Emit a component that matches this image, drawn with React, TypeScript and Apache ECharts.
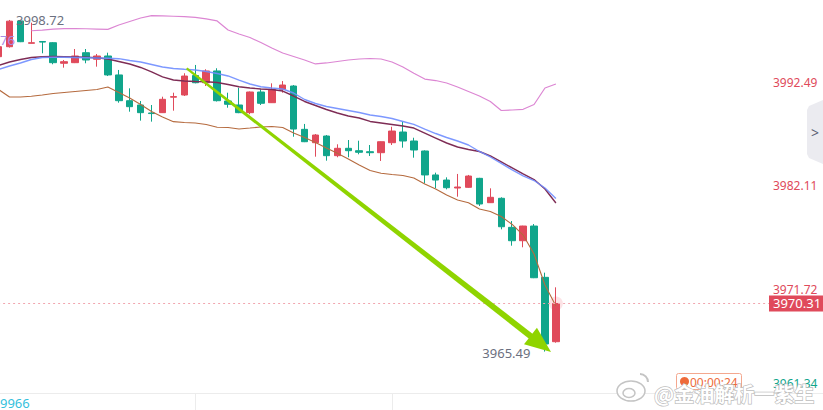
import React, { useEffect, useRef } from "react";
import * as echarts from "echarts";

// ---------- data ----------
const SLOT_COUNT = 71; // visible time slots (incl. empty future slots)
const slots: string[] = Array.from({ length: SLOT_COUNT }, (_, i) => String(i));

const opens = [3995.04, 3996.04, 3998.62, 3996.38, 3996.56, 3996.44, 3994.38, 3994.44, 3995.44, 3994.78, 3995.11, 3993.21, 3990.63, 3990.20, 3989.40, 3989.43, 3990.98, 3991.20, 3993.15, 3992.43, 3993.61, 3990.60, 3990.20, 3989.43, 3991.50, 3990.43, 3991.77, 3992.10, 3987.76, 3986.42, 3987.09, 3985.12, 3985.86, 3985.62, 3985.52, 3985.42, 3986.42, 3987.49, 3986.59, 3985.59, 3983.19, 3982.68, 3981.88, 3981.95, 3982.85, 3980.41, 3980.85, 3977.94, 3976.60, 3978.07, 3972.93, 3966.48];
const closes = [3996.04, 3998.60, 3996.54, 3996.44, 3996.50, 3994.44, 3994.54, 3995.11, 3994.71, 3995.11, 3993.21, 3990.63, 3990.03, 3989.43, 3989.34, 3990.77, 3991.04, 3993.10, 3992.43, 3993.61, 3990.63, 3990.27, 3989.43, 3991.50, 3990.37, 3991.77, 3992.20, 3987.79, 3986.52, 3987.19, 3985.12, 3985.86, 3985.62, 3985.46, 3985.42, 3986.52, 3987.59, 3986.59, 3985.69, 3983.19, 3982.68, 3981.91, 3981.98, 3983.08, 3980.28, 3980.95, 3978.00, 3976.60, 3978.07, 3972.89, 3966.25, 3970.31];
const lows = [3994.91, 3995.95, 3996.50, 3996.36, 3995.38, 3994.28, 3993.94, 3994.40, 3994.38, 3994.04, 3993.10, 3990.43, 3989.53, 3988.63, 3988.53, 3989.40, 3989.63, 3991.10, 3992.37, 3992.10, 3990.55, 3989.93, 3989.38, 3989.27, 3990.20, 3990.40, 3991.43, 3987.02, 3986.48, 3985.02, 3984.62, 3984.96, 3984.96, 3985.26, 3985.09, 3984.59, 3986.19, 3985.92, 3984.92, 3982.35, 3981.85, 3981.75, 3981.01, 3981.90, 3980.08, 3980.38, 3977.74, 3976.10, 3975.94, 3972.85, 3965.49, 3966.38];
const highs = [3996.21, 3998.72, 3998.70, 3998.45, 3996.58, 3996.50, 3994.71, 3995.81, 3995.81, 3995.31, 3995.44, 3993.71, 3991.87, 3990.60, 3990.20, 3991.03, 3991.43, 3993.38, 3994.21, 3993.78, 3993.88, 3991.43, 3991.93, 3991.55, 3991.77, 3992.37, 3992.60, 3992.20, 3988.30, 3987.29, 3987.19, 3986.26, 3986.69, 3986.62, 3986.19, 3986.55, 3988.02, 3988.53, 3986.92, 3985.65, 3983.42, 3982.95, 3983.29, 3983.19, 3982.90, 3981.85, 3980.95, 3978.57, 3978.10, 3978.27, 3973.40, 3971.93];

const bollUpper = [null, null, null, 3997.64, 3997.71, 3997.81, 3997.86, 3997.86, 3997.84, 3997.81, 3997.78, 3998.22, 3998.57, 3998.92, 3999.15, 3999.12, 3999.09, 3999.05, 3998.97, 3998.82, 3998.62, 3997.71, 3997.31, 3996.96, 3996.46, 3995.91, 3995.41, 3995.06, 3994.71, 3994.31, 3994.41, 3994.56, 3994.71, 3994.81, 3994.86, 3994.81, 3994.51, 3994.01, 3993.38, 3992.80, 3992.65, 3992.40, 3992.00, 3991.55, 3991.10, 3990.55, 3989.65, 3989.70, 3989.77, 3990.25, 3991.90, 3992.30];
const bollMid = [3994.16, 3994.51, 3994.76, 3994.96, 3995.04, 3995.06, 3995.04, 3995.01, 3994.98, 3994.94, 3994.81, 3994.56, 3994.31, 3993.96, 3993.51, 3993.01, 3992.70, 3992.60, 3992.55, 3992.53, 3992.45, 3992.25, 3992.03, 3991.90, 3991.80, 3991.75, 3991.60, 3991.10, 3990.55, 3990.15, 3989.75, 3989.40, 3989.10, 3988.90, 3988.55, 3988.40, 3988.25, 3988.10, 3987.89, 3987.39, 3986.89, 3986.39, 3985.99, 3985.74, 3985.54, 3985.09, 3984.49, 3983.89, 3983.29, 3982.73, 3981.78, 3980.38];
const maBlue = [3993.76, 3994.11, 3994.41, 3994.76, 3994.96, 3994.98, 3994.98, 3994.96, 3994.94, 3994.91, 3994.88, 3994.84, 3994.66, 3994.51, 3994.26, 3994.01, 3993.86, 3993.78, 3993.71, 3993.56, 3993.36, 3993.11, 3992.70, 3992.30, 3992.03, 3991.90, 3991.80, 3991.40, 3990.75, 3990.35, 3990.05, 3989.85, 3989.65, 3989.45, 3989.20, 3989.05, 3988.85, 3988.55, 3988.25, 3987.79, 3987.34, 3986.94, 3986.59, 3986.19, 3985.54, 3984.99, 3984.34, 3983.69, 3983.09, 3982.63, 3981.88, 3980.83];
const bollLower = [3991.75, 3991.00, 3991.00, 3991.07, 3991.20, 3991.35, 3991.45, 3991.55, 3991.65, 3991.75, 3992.00, 3991.45, 3990.90, 3990.25, 3989.55, 3989.00, 3988.53, 3988.45, 3988.40, 3988.25, 3987.97, 3987.95, 3987.79, 3987.89, 3988.00, 3988.05, 3987.95, 3987.39, 3986.94, 3986.44, 3985.89, 3985.36, 3984.79, 3984.19, 3983.64, 3983.36, 3983.24, 3983.14, 3982.88, 3982.28, 3981.78, 3981.18, 3980.68, 3980.41, 3979.78, 3979.53, 3979.03, 3978.23, 3977.17, 3975.27, 3972.16, 3970.06];

const yTicks = [3961.34, 3971.72, 3982.11, 3992.49];
const Y_MIN = 3961.34;
const Y_MAX = 4000.72;

// drawn trend arrow: start and tip (slot position, price)
const arrowFrom = [17.21, 3993.88];
const arrowTip = [50.55, 3965.45];

// ---------- styles ----------
const UP = "#e04a5b";
const DOWN = "#10a58b";
const ARROW = "#8fd400";
const FONT = "'Noto Sans', 'Liberation Sans', sans-serif";

export default function App() {
  const ref = useRef<HTMLDivElement>(null);

  useEffect(() => {
    if (!ref.current) return;
    const chart = echarts.init(ref.current, null, { renderer: "svg" });
    const candleData = opens.map((o, i) => [o, closes[i], lows[i], highs[i]]);
    const lastIdx = closes.length - 1;
    const lastClose = closes[lastIdx];

    const renderArrow = (params: any, api: any) => {
      if (params.dataIndex !== 0) return null;
      const p0 = api.coord(arrowFrom);
      const p1 = api.coord(arrowTip);
      const dx = p1[0] - p0[0];
      const dy = p1[1] - p0[1];
      const len = Math.sqrt(dx * dx + dy * dy);
      const ux = dx / len;
      const uy = dy / len;
      const nx = -uy;
      const ny = ux;
      const headLen = 26;
      const headHalf = 10.5;
      const w0 = 1.1;
      const w1 = 3.1;
      const base = [p1[0] - ux * headLen, p1[1] - uy * headLen];
      const shaftEnd = [base[0] + ux * 3, base[1] + uy * 3];
      return {
        type: "group",
        children: [
          {
            type: "polygon",
            shape: {
              points: [
                [p0[0] + nx * w0, p0[1] + ny * w0],
                [shaftEnd[0] + nx * w1, shaftEnd[1] + ny * w1],
                [shaftEnd[0] - nx * w1, shaftEnd[1] - ny * w1],
                [p0[0] - nx * w0, p0[1] - ny * w0],
              ],
            },
            style: { fill: ARROW },
          },
          {
            type: "polygon",
            shape: {
              points: [
                [p1[0], p1[1]],
                [base[0] + nx * headHalf, base[1] + ny * headHalf],
                [base[0] - nx * headHalf, base[1] - ny * headHalf],
              ],
            },
            style: { fill: ARROW },
          },
        ],
      };
    };

    const option: any = {
      animation: false,
      backgroundColor: "#ffffff",
      textStyle: { fontFamily: FONT },
      grid: { left: -6.88, right: 54, top: 0, bottom: 17, containLabel: false, outerBoundsMode: "none" },
      xAxis: [
        {
          type: "category",
          data: slots,
          boundaryGap: true,
          axisLine: { show: true, lineStyle: { color: "#ececec", width: 1 } },
          axisTick: {
            show: true,
            alignWithLabel: true,
            interval: (i: number) => i === 18 || i === 36,
            length: 17,
            lineStyle: { color: "#ececec" },
          },
          axisLabel: { show: false },
          splitLine: { show: false },
        },
        { type: "value", min: -0.5, max: SLOT_COUNT - 0.5, show: false, gridIndex: 0 },
      ],
      yAxis: {
        type: "value",
        position: "right",
        min: Y_MIN,
        max: Y_MAX,
        axisLine: { show: true, lineStyle: { color: "#ececec" } },
        axisTick: { show: false },
        splitLine: { show: false },
        axisLabel: {
          customValues: yTicks,
          margin: 4,
          fontSize: 12,
          fontFamily: FONT,
          formatter: (v: number) => {
            const s = v.toFixed(2);
            const key = v > lastClose ? "up" : "dn";
            return v <= Y_MIN + 0.001 ? `{${key}Low|${s}}` : `{${key}|${s}}`;
          },
          rich: {
            up: { color: UP, fontSize: 12, fontFamily: FONT },
            dn: { color: DOWN, fontSize: 12, fontFamily: FONT },
            upLow: { color: UP, fontSize: 12, fontFamily: FONT, padding: [0, 0, 19, 0] },
            dnLow: { color: DOWN, fontSize: 12, fontFamily: FONT, padding: [0, 0, 19, 0] },
          },
        },
      },
      series: [
        {
          type: "candlestick",
          name: "K",
          data: candleData,
          barWidth: 7,
          z: 2,
          itemStyle: { color: UP, color0: DOWN, borderColor: UP, borderColor0: DOWN, borderWidth: 1 },
          markPoint: {
            silent: true,
            symbol: "circle",
            symbolSize: 1,
            itemStyle: { color: "rgba(0,0,0,0)" },
            label: {
              show: true,
              color: "#6b7080",
              fontSize: 13,
              fontFamily: FONT,
              formatter: (p: any) => Number(p.value).toFixed(2),
            },
            data: [
              { type: "max", valueDim: "highest", label: { position: "right", distance: 6 } },
              { type: "min", valueDim: "lowest", label: { position: "left", distance: 14, offset: [0, 1.5] } },
            ],
          },
          markLine: {
            silent: true,
            symbol: ["none", "none"],
            lineStyle: { color: "#f2a6af", type: [2, 3], width: 1 },
            label: {
              show: true,
              position: "end",
              distance: 0,
              formatter: (p: any) => Number(p.value).toFixed(2),
              color: "#ffffff",
              backgroundColor: UP,
              fontSize: 13,
              lineHeight: 14,
              fontFamily: FONT,
              padding: [1, 3, 1, 4],
            },
            data: [{ yAxis: lastClose }],
          },
        },
        {
          type: "line",
          name: "UP",
          data: bollUpper,
          symbol: "none",
          z: 3,
          lineStyle: { color: "#dc86d3", width: 1.2 },
        },
        {
          type: "line",
          name: "MID",
          data: bollMid,
          symbol: "none",
          z: 3,
          lineStyle: { color: "#7e2c55", width: 1.4 },
        },
        {
          type: "line",
          name: "MA",
          data: maBlue,
          symbol: "none",
          z: 3,
          lineStyle: { color: "#6f8dff", width: 1.4, opacity: 0.9 },
        },
        {
          type: "line",
          name: "DN",
          data: bollLower,
          symbol: "none",
          z: 3,
          lineStyle: { color: "#b56a3e", width: 1.1 },
        },
        {
          type: "scatter",
          name: "pulse",
          data: [[lastIdx, lastClose]],
          symbolSize: 14,
          z: 1,
          silent: true,
          itemStyle: { color: "rgba(240,130,145,0.28)" },
        },
        {
          type: "custom",
          name: "arrow",
          xAxisIndex: 1,
          data: [arrowFrom, arrowTip],
          renderItem: renderArrow,
          silent: true,
          z: 5,
        },
      ],
      graphic: [
        {
          type: "text",
          x: 0,
          y: 40,
          z: 100,
          style: { text: "76", fill: "#a88de6", fontSize: 13, fontFamily: FONT, verticalAlign: "middle" },
        },
        {
          type: "text",
          x: 0,
          y: 402.5,
          style: { text: "9966", fill: "#35bfdc", fontSize: 13, fontFamily: FONT, verticalAlign: "middle" },
        },
        {
          type: "line",
          shape: { x1: 769, y1: 393.5, x2: 823, y2: 393.5 },
          style: { stroke: "#ececec", lineWidth: 1 },
        },
        {
          type: "polygon",
          shape: { points: [[823, 100], [809, 106], [807, 110], [807, 154], [809, 158], [823, 164]] },
          style: { fill: "#ebebf0" },
        },
        {
          type: "text",
          x: 811,
          y: 132,
          style: { text: ">", fill: "#5a5f73", fontSize: 14, fontFamily: FONT, verticalAlign: "middle" },
        },
        {
          type: "rect",
          shape: { x: 676.5, y: 373.5, width: 65, height: 16, r: 2 },
          style: { fill: "#ffffff", stroke: "#f4a88f", lineWidth: 1 },
          z: 50,
        },
        {
          type: "circle",
          shape: { cx: 684.5, cy: 381.5, r: 4.5 },
          style: { fill: "#ee6a3a" },
          z: 51,
        },
        {
          type: "text",
          x: 690,
          y: 382,
          z: 51,
          style: { text: "00:00:24", fill: "#ee6a3a", fontSize: 12, fontFamily: FONT, verticalAlign: "middle" },
        },
        {
          type: "ellipse",
          shape: { cx: 631, cy: 391, rx: 14, ry: 10 },
          style: { fill: "rgba(255,255,255,0.85)", stroke: "#c4c4c4", lineWidth: 1.5 },
          z: 60,
        },
        {
          type: "ellipse",
          shape: { cx: 629, cy: 393, rx: 6, ry: 4.5 },
          style: { fill: "none", stroke: "#c4c4c4", lineWidth: 1.5 },
          z: 61,
        },
        {
          type: "arc",
          shape: { cx: 640, cy: 382, r: 8, startAngle: -Math.PI / 2, endAngle: 0 },
          style: { fill: "none", stroke: "#c4c4c4", lineWidth: 2 },
          z: 61,
        },
        {
          type: "text",
          x: 654,
          y: 393,
          z: 62,
          style: {
            text: "@金油解析一紫生",
            fill: "#ffffff",
            stroke: "#bdbdbd",
            lineWidth: 1.4,
            fontSize: 20,
            fontWeight: "bold",
            fontFamily: "'Noto Sans CJK SC', sans-serif",
            verticalAlign: "middle",
          },
        },
      ],
    };

    chart.setOption(option);
    return () => chart.dispose();
  }, []);

  return (
    <div
      ref={ref}
      style={{ position: "fixed", left: 0, top: 0, width: 823, height: 410, background: "#fff" }}
    />
  );
}
